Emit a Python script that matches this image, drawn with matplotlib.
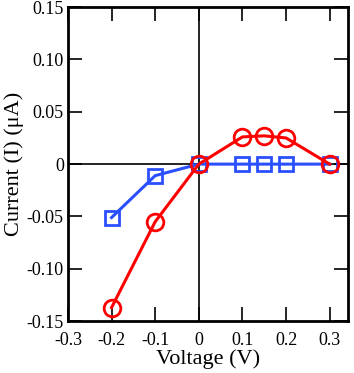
import matplotlib
matplotlib.use("Agg")
import matplotlib.pyplot as plt

voltage = [-0.2, -0.1, 0.0, 0.1, 0.15, 0.2, 0.3]
current_red = [-0.137, -0.055, 0.0, 0.026, 0.027, 0.025, 0.0]
current_blue = [-0.051, -0.011, 0.0, 0.0, 0.0, 0.0, 0.0]

xticks = [-0.3, -0.2, -0.1, 0, 0.1, 0.2, 0.3]
xtick_labels = ["-0.3", "-0.2", "-0.1", "0", "0.1", "0.2", "0.3"]
yticks = [-0.15, -0.10, -0.05, 0, 0.05, 0.10, 0.15]
ytick_labels = ["-0.15", "-0.10", "-0.05", "0", "0.05", "0.10", "0.15"]

plt.rcParams['font.family'] = ['Liberation Serif', 'DejaVu Serif']

fig = plt.figure(figsize=(3.54, 3.73), dpi=100)
ax = fig.add_axes([0.192, 0.139, 0.791, 0.842])

# zero lines
ax.axhline(0, color='black', lw=1.2, zorder=1)
ax.axvline(0, color='black', lw=1.2, zorder=1)

ax.plot(voltage, current_blue, color='#2a4fff', lw=2.2, marker='s', ms=10,
        mfc='none', mec='#2a4fff', mew=2, zorder=2)
ax.plot(voltage, current_red, color='#ff0000', lw=2.2, marker='o', ms=12,
        mfc='none', mec='#ff0000', mew=2, zorder=3)

ax.set_xlim(-0.3, 0.342)
ax.set_ylim(-0.15, 0.15)
ax.set_xticks(xticks)
ax.set_xticklabels(xtick_labels)
ax.set_yticks(yticks)
ax.set_yticklabels(ytick_labels)

ax.tick_params(direction='in', length=10, width=1.2, top=True, right=True,
               labelsize=13)
ax.tick_params(axis='y', pad=3)
ax.tick_params(axis='x', pad=8)
for s in ax.spines.values():
    s.set_linewidth(2)

ax.set_xlabel('Voltage (V)', fontsize=16, labelpad=0)
ax.set_ylabel('Current (I) (\u03bcA)', fontsize=16, labelpad=2)

fig.savefig('out.png', dpi=100)
